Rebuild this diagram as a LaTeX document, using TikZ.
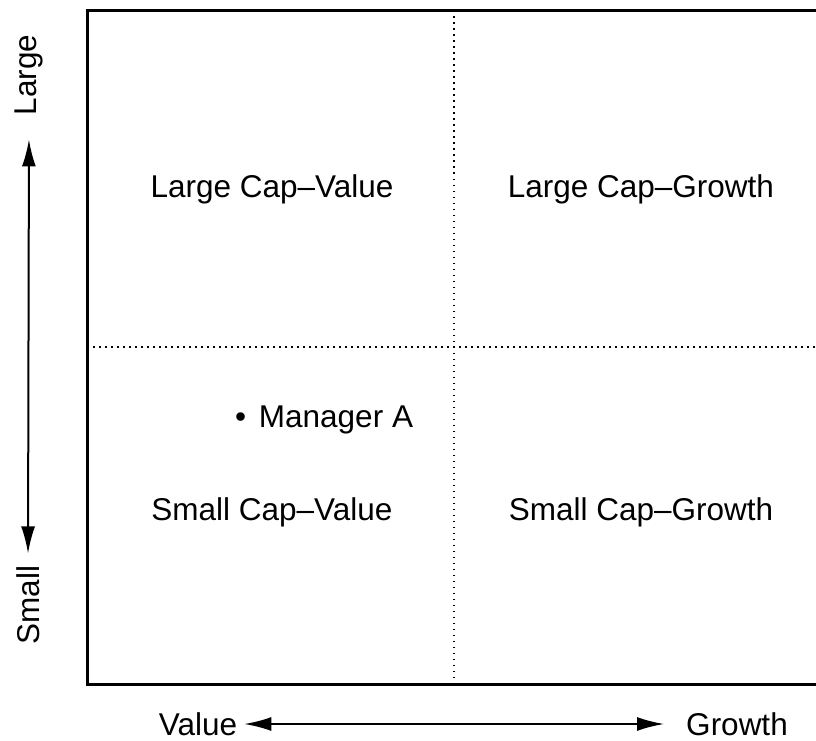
\documentclass[tikz,border=0pt]{standalone}
\usepackage{fontspec}
\setmainfont{Liberation Sans}
\usetikzlibrary{arrows.meta,positioning}

\begin{document}
\begin{tikzpicture}[x=1pt, y=-1pt, font=\fontsize{31.5}{38}\selectfont,
  ax/.style={line width=2pt, {Latex[length=27pt,width=14pt]}-{Latex[length=27pt,width=14pt]}},
  dots/.style={line width=1.6pt, dash pattern=on 1.6pt off 4.4pt},
  q/.style={inner sep=0pt, anchor=center},
  axlbl/.style={inner sep=1pt}]
  \clip (0,0) rectangle (816,741);
  % frame and quadrant dividers
  \draw[line width=3pt] (823,10.5) -- (87,10.5) -- (87,684) -- (823,684);
  \draw[dots] (454,10.5) -- (454,684);
  \draw[dots] (87,347) -- (816,347);
  % quadrant labels
  \node[q] (lcv) at (272,189) {Large Cap--Value};
  \node[q] (lcg) at (641,189) {Large Cap--Growth};
  \node[q] (scv) at (272,512) {Small Cap--Value};
  \node[q] (scg) at (641,512) {Small Cap--Growth};
  \node[q, anchor=west] (mgr) at (235,420) {\textbullet\hspace{4pt} Manager A};
  % axes
  \node[axlbl, rotate=90] (lg) at (29,75) {Large};
  \node[axlbl, rotate=90] (sm) at (28,605) {Small};
  \node[axlbl] (val) at (198,724) {Value};
  \node[axlbl] (grw) at (737,724) {Growth};
  \draw[ax, shorten <=23pt, shorten >=11pt] (lg.west) -- (sm.east);
  \draw[ax, shorten <=6pt, shorten >=21pt] (val.east) -- (grw.west);
\end{tikzpicture}
\end{document}
